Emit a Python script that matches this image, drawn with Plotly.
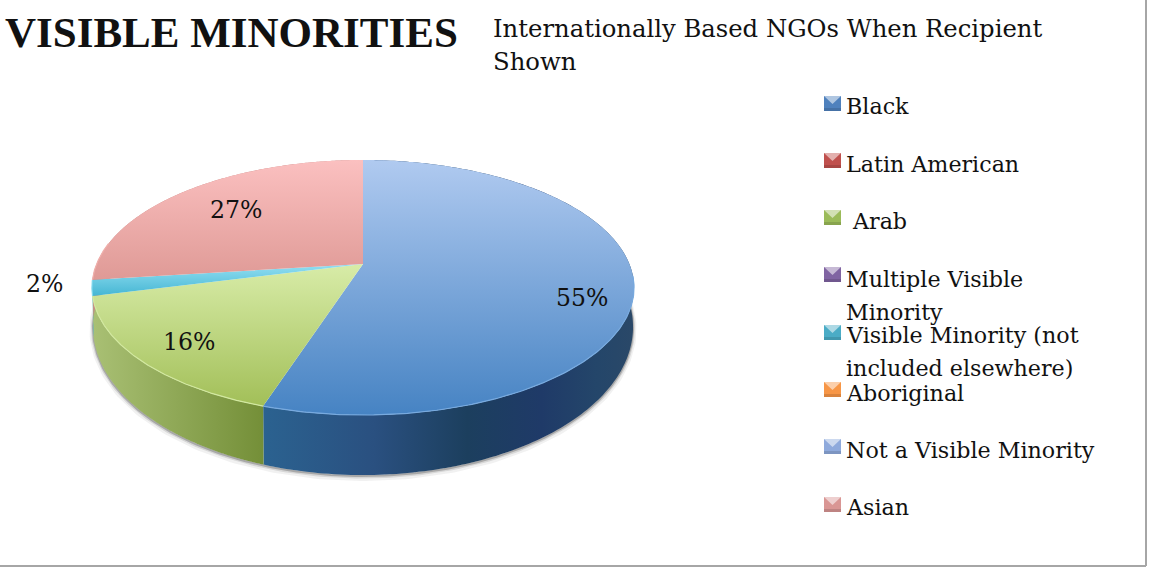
import numpy as np
import plotly.graph_objects as go

# ---- data ----
pie_categories = ["Black", "Arab", "Visible Minority (not included elsewhere)", "Asian"]
pie_values = [55, 16, 2, 27]
legend_names = ["Black", "Latin American", " Arab", "Multiple Visible<br>Minority",
                "Visible Minority (not<br>included elsewhere)", "Aboriginal",
                "Not a Visible Minority", "Asian"]
legend_colors = ["#4f81bd", "#c0504d", "#9bbb59", "#8064a2", "#4bacc6", "#f79646", "#8faadc", "#d99694"]
title_main = "VISIBLE MINORITIES"
title_sub = "Internationally Based NGOs When Recipient<br>Shown"

# ---- geometry / style ----
FONT = "DejaVu Serif"
FONT_BOLD = "Liberation Serif"
TEXT = "#111111"
CX, K = 363.0, 0.1844
TOP = dict(A=266.4, B=123.2, Y0=264.0)
BOT = dict(A=265.4, B=143.0, Y0=299.7)
face_grad = {
    "Black": ("#b0caf0", "#4683c3"),
    "Arab": ("#d8eca8", "#a2bf58"),
    "Visible Minority (not included elsewhere)": ("#93dff2", "#45b6d3"),
    "Asian": ("#fbc0c0", "#df9a96"),
}
wall_grad = {
    "Black": [[0, "#2b6290"], [0.3, "#2a5080"], [0.55, "#1c3f5e"], [0.75, "#1f3a68"], [0.9, "#24466a"], [1, "#2a4868"]],
    "Arab": [[0, "#a9c074"], [1, "#748f38"]],
    "Visible Minority (not included elsewhere)": [[0, "#3fb2cf"], [1, "#3fb2cf"]],
    "Asian": [[0, "#c98a86"], [1, "#c98a86"]],
}
rim = {"Black": "#78aadf", "Arab": "#d2e8a0",
       "Visible Minority (not included elsewhere)": "#7fd8ee", "Asian": "#f0b0ac"}


def project(theta_deg, g, r=1.0):
    t = np.radians(theta_deg)
    u, v = r * np.sin(t), r * np.cos(t)
    d = 1 + K * v
    return CX + g["A"] * u / d, g["Y0"] - g["B"] * v / d


fractions = np.array(pie_values, float) / sum(pie_values)
edges = np.concatenate([[0], np.cumsum(fractions)]) * 360

fig = go.Figure()

# soft shadow below the wall
ts = np.linspace(75, 285, 240)
sx, sy = project(ts, BOT)
for w, a, dy in [(7, 0.07, 2.5), (4, 0.14, 1.5), (2, 0.3, 1)]:
    fig.add_trace(go.Scatter(x=sx, y=sy + dy, mode="lines", hoverinfo="skip",
                             line=dict(color=f"rgba(60,60,60,{a})", width=w)))

# walls
for name, a0, a1 in zip(pie_categories, edges[:-1], edges[1:]):
    ts = np.linspace(a0, a1, 200)
    tx, ty = project(ts, TOP)
    bx, by = project(ts[::-1], BOT)
    xs = np.concatenate([tx, bx, tx[:1]])
    ys = np.concatenate([ty, by, ty[:1]])
    # the gradient runs over the visible (front) span only
    mask = (ts > 90) & (ts < 280)
    fx = project(ts[mask] if mask.any() else ts, TOP)[0]
    fig.add_trace(go.Scatter(
        x=xs, y=ys, mode="none", fill="toself", hoverinfo="skip",
        fillgradient=dict(type="horizontal", colorscale=wall_grad[name],
                          start=float(fx.min()), stop=float(fx.max()))))

# top faces
apex_x, apex_y = project(0.0, TOP, 0.0)
for name, a0, a1 in zip(pie_categories, edges[:-1], edges[1:]):
    ts = np.linspace(a0, a1, 300)
    tx, ty = project(ts, TOP)
    xs = np.concatenate([[apex_x], tx, [apex_x]])
    ys = np.concatenate([[apex_y], ty, [apex_y]])
    fig.add_trace(go.Scatter(
        x=xs, y=ys, mode="none", fill="toself", name=name, hoverinfo="name",
        fillgradient=dict(type="vertical", colorscale=[[0, face_grad[name][0]], [1, face_grad[name][1]]],
                          start=float(ys.min()), stop=float(ys.max()))))
    # light rim along the front edge
    mask = (ts > 95) & (ts < 280)
    if mask.any():
        fig.add_trace(go.Scatter(x=tx[mask], y=ty[mask], mode="lines", hoverinfo="skip",
                                 line=dict(color=rim[name], width=1.2)))

shapes, annotations = [], []


def txt(x, y, s, size, family=FONT, anchor="center"):
    annotations.append(dict(x=x, y=y, text=s, xref="x", yref="y",
                            showarrow=False, xanchor=anchor, yanchor="middle", align="left",
                            borderpad=0, borderwidth=0,
                            font=dict(family=family, size=size, color=TEXT)))


LINE_PITCH = 33
LABEL_SIZE = 23.6
SUB_SIZE = 24.3
LEGEND_SIZE = 22.2

# data labels
label_pos = {"Black": (582, 298), "Arab": (189, 342),
             "Visible Minority (not included elsewhere)": (44, 284), "Asian": (236, 210)}
for name, v in zip(pie_categories, pie_values):
    txt(*label_pos[name], f"{v}%", LABEL_SIZE)

# titles
txt(5, 32, f"<b>{title_main}</b>", 43, family=FONT_BOLD, anchor="left")
for j, line in enumerate(title_sub.split("<br>")):
    txt(493, 28 + j * LINE_PITCH, line, SUB_SIZE, anchor="left")

# legend
swatch_top = [96, 153, 210, 267, 325, 382, 439, 497]
text_mid = [106, 164, 221, 279, 335, 393, 450, 507]
for i, (nm, col) in enumerate(zip(legend_names, legend_colors)):
    y0 = swatch_top[i]
    x0, x1, y1 = 824, 841, y0 + 15
    shapes.append(dict(type="rect", x0=x0, x1=x1, y0=y0, y1=y1, xref="x", yref="y",
                       fillcolor=col, line=dict(width=0)))
    shapes.append(dict(type="path", xref="x", yref="y", line=dict(width=0),
                       fillcolor="rgba(255,255,255,0.55)",
                       path=f"M{x0},{y0} L{x1},{y0} L{(x0 + x1) / 2},{y0 + 8} Z"))
    shapes.append(dict(type="rect", x0=x0, x1=x1, y0=y1 - 3, y1=y1, xref="x", yref="y",
                       fillcolor="rgba(0,0,0,0.12)", line=dict(width=0)))
    for j, line in enumerate(nm.split("<br>")):
        txt(846 if not line.startswith(" ") else 852, text_mid[i] + j * LINE_PITCH, line.strip(), LEGEND_SIZE, anchor="left")

# frame
frame = "#a6a6a6"
shapes.append(dict(type="line", x0=0, x1=1146, y0=566, y1=566, xref="x", yref="y", line=dict(color=frame, width=2)))
shapes.append(dict(type="line", x0=1146, x1=1146, y0=0, y1=566, xref="x", yref="y", line=dict(color=frame, width=2)))

fig.update_layout(
    width=1151, height=569, margin=dict(l=0, r=0, t=0, b=0), showlegend=False,
    paper_bgcolor="white", plot_bgcolor="white",
    xaxis=dict(range=[0, 1151], visible=False, fixedrange=True),
    yaxis=dict(range=[569, 0], visible=False, fixedrange=True),
    shapes=shapes, annotations=annotations,
)
fig.write_html("out.html", config={"displayModeBar": False},
               post_script="document.body.style.margin='0';document.documentElement.style.overflow='hidden';")
